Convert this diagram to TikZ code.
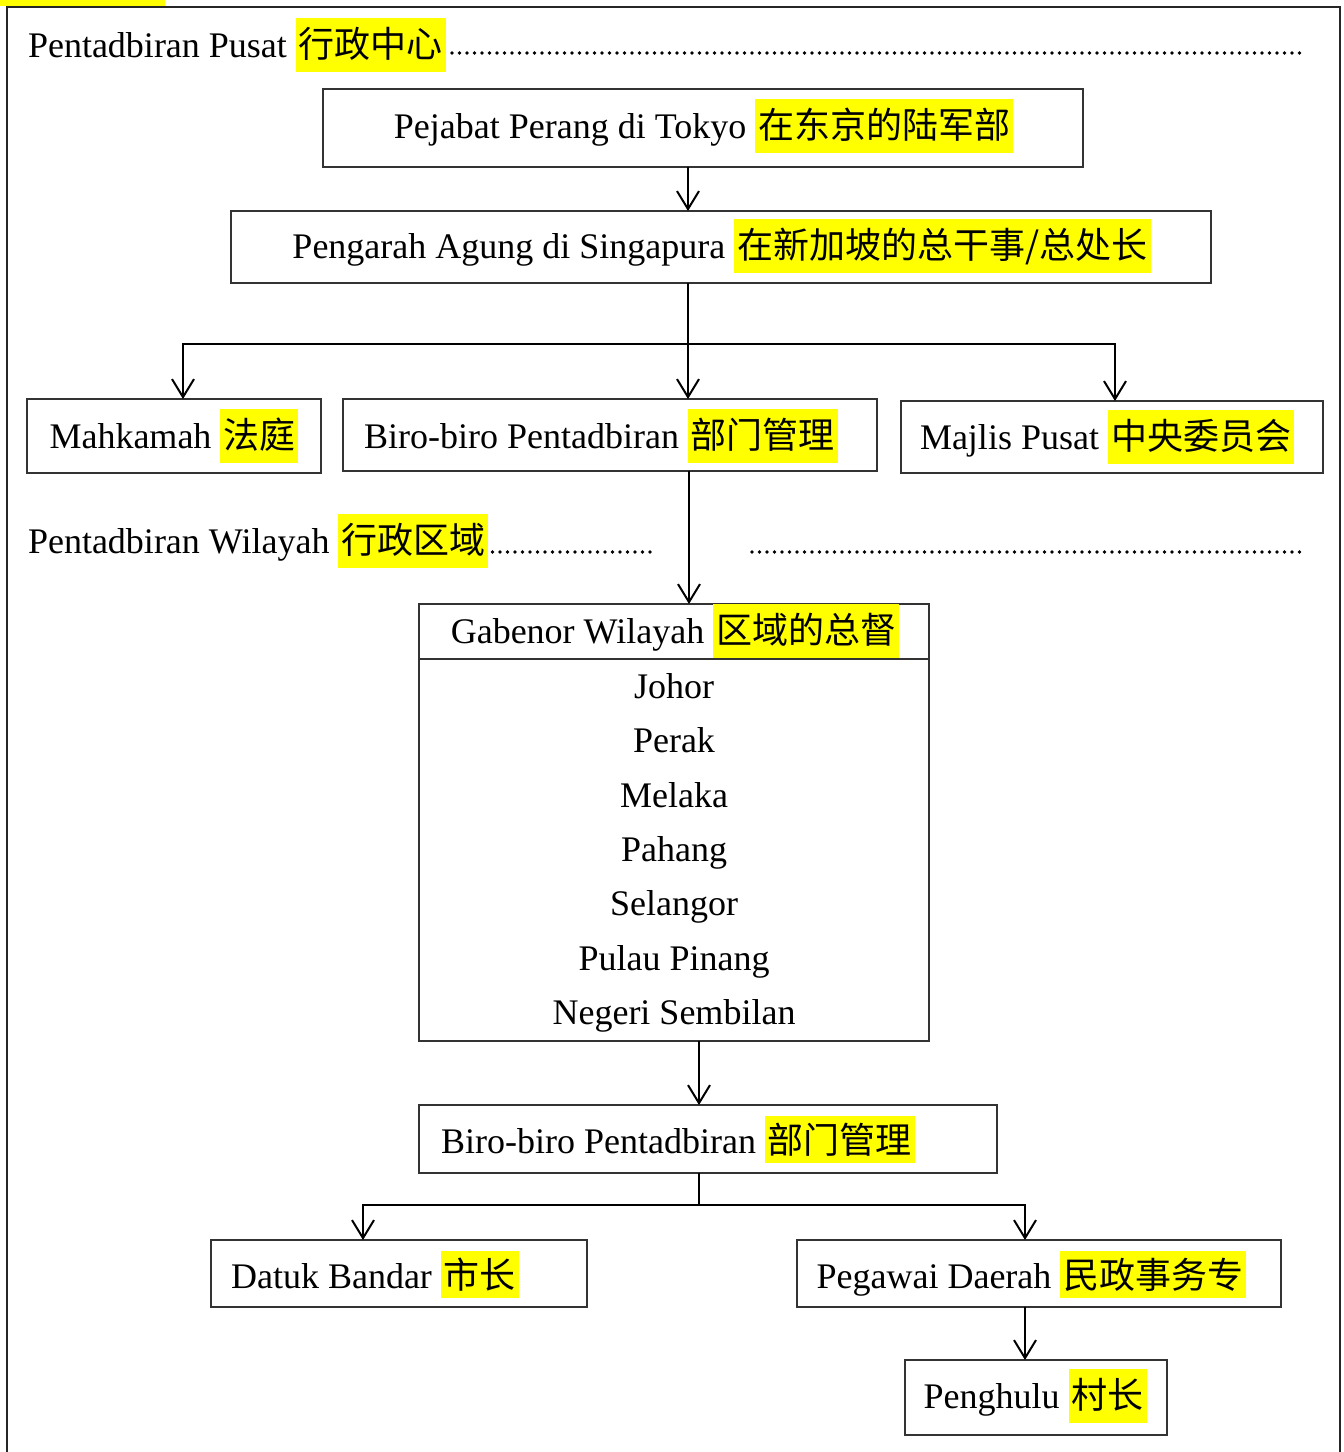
\documentclass[tikz,border=0pt]{standalone}
\usepackage{fontspec}
\setmainfont{Liberation Serif}
\newfontfamily\cjk{Noto Sans CJK SC}
\usetikzlibrary{arrows.meta,calc}
\definecolor{hl}{RGB}{255,255,0}
\newcommand\zh[1]{{\setlength\fboxsep{1.5pt}\colorbox{hl}{\cjk\rule[-6pt]{0pt}{24pt}#1}}}
\newcommand\zhs[1]{{\setlength\fboxsep{1.5pt}\colorbox{hl}{\cjk\rule[-3.5pt]{0pt}{20.5pt}#1}}}
\begin{document}
\begin{tikzpicture}[x=0.5pt,y=-0.5pt,
  box/.style={draw=black!80,line width=0.75pt,inner sep=0pt,outer sep=0pt},
  txt/.style={anchor=base,inner sep=0pt,outer sep=0pt,font=\fontsize{18pt}{22pt}\selectfont},
  arr/.style={draw=black,line width=1pt,-{Straight Barb[length=9pt,width=11pt]}},
  conn/.style={draw=black,line width=1pt},
  dots/.style={line width=1.9pt,line cap=round,dash pattern=on 0pt off 3.75pt}]
\useasboundingbox (0,0) rectangle (1344,1452);
\clip (0,0) rectangle (1344,1452);
\fill[hl] (0,0) rectangle (165,6);
\draw[line width=1.2pt,black!85] (7,1470) -- (7,7) -- (1340,7) -- (1340,1470);

% central administration header
\node[txt,anchor=base west] (h1) at (28,57) {Pentadbiran Pusat \zh{行政中心}};
\coordinate (d1e) at (1305,53);
\draw[dots] ($(h1.east |- d1e)+(6,0)$) -- (d1e);

% top boxes
\node[box,minimum width=380pt,minimum height=39pt] (b1) at (703,128) {};
\node[txt] (t1) at (703.5,138) {Pejabat Perang di Tokyo \zh{在东京的陆军部}};
\node[box,minimum width=490pt,minimum height=36pt] (b2) at (721,247) {};
\node[txt] (t2) at (721.5,258) {Pengarah Agung di Singapura \zh{在新加坡的总干事/总处长}};

% row of three
\node[box,minimum width=147pt,minimum height=37pt] (mah) at (174,436) {};
\node[txt] (tmah) at (174,448) {Mahkamah \zh{法庭}};
\node[box,minimum width=267pt,minimum height=36pt] (bir1) at (610,435) {};
\node[txt] (tbir1) at (601,448) {Biro-biro Pentadbiran \zh{部门管理}};
\node[box,minimum width=211pt,minimum height=36pt] (maj) at (1112,437) {};
\node[txt] (tmaj) at (1107,449) {Majlis Pusat \zh{中央委员会}};

% regional header
\node[txt,anchor=base west] (h2) at (28,553) {Pentadbiran Wilayah \zh{行政区域}};
\coordinate (d2a) at (655,552);
\coordinate (d2b) at (752,552);
\coordinate (d2c) at (1303,552);
\draw[dots] ($(h2.east |- d2a)+(4,0)$) -- (d2a);
\draw[dots] (d2b) -- (d2c);

% governor box
\node[box,minimum width=255pt,minimum height=218.5pt] (gab) at (674,822.5) {};
\draw[box] (gab.west |- 0,659) -- (gab.east |- 0,659);
\node[txt] (tgab) at (675,643) {Gabenor Wilayah \zh{区域的总督}};
\node[txt] (s1) at (674,698) {Johor};
\node[txt] (s2) at (674,752) {Perak};
\node[txt] (s3) at (674,807) {Melaka};
\node[txt] (s4) at (674,861) {Pahang};
\node[txt] (s5) at (674,915) {Selangor};
\node[txt] (s6) at (674,970) {Pulau Pinang};
\node[txt] (s7) at (674,1024) {Negeri Sembilan};

% lower boxes
\node[box,minimum width=289pt,minimum height=34pt] (bir2) at (708,1139) {};
\node[txt] (tbir2) at (678,1153) {Biro-biro Pentadbiran \zhs{部门管理}};
\node[box,minimum width=188pt,minimum height=33.5pt] (dat) at (399,1273.5) {};
\node[txt] (tdat) at (375,1288) {Datuk Bandar \zhs{市长}};
\node[box,minimum width=242pt,minimum height=33.5pt] (peg) at (1039,1273.5) {};
\node[txt] (tpeg) at (1031.5,1288) {Pegawai Daerah \zhs{民政事务专}};
\node[box,minimum width=131pt,minimum height=37.5pt] (pen) at (1036,1397.5) {};
\node[txt] (tpen) at (1035,1408) {Penghulu \zh{村长}};

% connectors
\draw[arr] (b1.south -| 688,0) -- (b2.north -| 688,0);
\draw[arr] (b2.south -| 688,0) -- (bir1.north -| 688,0);
\coordinate (j1) at (688,344);
\draw[arr] (j1) -| (mah.north -| 183,0);
\draw[arr] (j1) -| (maj.north -| 1115,0);
\draw[arr] (bir1.south -| 689,0) -- (gab.north -| 689,0);
\draw[arr] (gab.south -| 699,0) -- (bir2.north -| 699,0);
\coordinate (j2) at (699,1205);
\draw[conn] (bir2.south -| 699,0) -- (j2);
\draw[arr] (j2) -| (dat.north -| 363,0);
\draw[arr] (j2) -| (peg.north -| 1025,0);
\draw[arr] (peg.south -| 1025,0) -- (pen.north -| 1025,0);
\end{tikzpicture}
\end{document}
